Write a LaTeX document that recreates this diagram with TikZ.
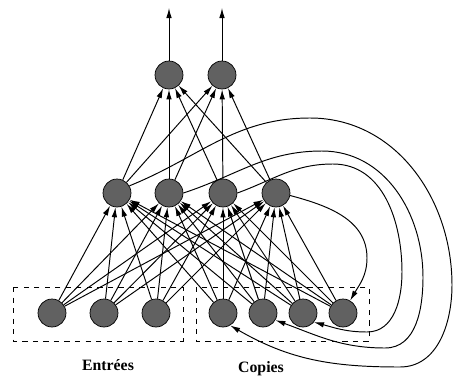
\documentclass[tikz,border=0pt]{standalone}
\usepackage{fontspec}
\setmainfont{Liberation Serif}
\usetikzlibrary{arrows.meta}

\begin{document}
\begin{tikzpicture}[x=0.02cm, y=0.02cm,
    neuron/.style={circle, draw=black, fill=black!62, minimum size=0.56cm, inner sep=0pt},
    wire/.style={line width=0.55pt, -{Latex[length=2mm, width=1.1mm]}},
    group/.style={dashed, line width=0.5pt},
    caption/.style={font=\fontsize{9}{10}\selectfont\bfseries}]
                            % Frame:
                            \useasboundingbox (0,0) rectangle (454,-376);
                            % Neurons:
                            \node[neuron] (out1) at (169,-75){};
                            \node[neuron] (out2) at (222,-75){};
                            \node[neuron] (hid1) at (117,-193){};
                            \node[neuron] (hid2) at (169,-193){};
                            \node[neuron] (hid3) at (223,-193){};
                            \node[neuron] (hid4) at (276,-193){};
                            \node[neuron] (in1) at (52,-313){};
                            \node[neuron] (in2) at (104,-313){};
                            \node[neuron] (in3) at (156,-313){};
                            \node[neuron] (in4) at (223,-313){};
                            \node[neuron] (in5) at (263,-313){};
                            \node[neuron] (in6) at (303,-313){};
                            \node[neuron] (in7) at (343,-313){};
                            \coordinate (top1) at (169,-8);
                            \coordinate (top2) at (222,-8);
                            % Groups and labels:
                            \draw[group] (13,-287) rectangle (183,-341);
                            \draw[group] (196,-287) rectangle (369,-341);
                            \node[caption] (entrees) at (108,-365){Entrées};
                            \node[caption] (copies) at (261,-369){Copies};
                            % Feed-forward wires:
                            \foreach \i in {1,...,7}
                              \foreach \j in {1,...,4}
                                \draw[wire] (in\i) -- (hid\j);
                            \foreach \j in {1,...,4}
                              \foreach \k in {1,2}
                                \draw[wire] (hid\j) -- (out\k);
                            \draw[wire] (out1) -- (top1);
                            \draw[wire] (out2) -- (top2);
                            % Recurrent wires to the copies:
                            \draw[wire] (hid4.-10) to[out=-15,in=90] (367,-258) to[out=-90,in=60] (in7.60);
                            \draw[wire] (hid3.east) to[out=20,in=180] (333,-164) to[out=0,in=90] (402,-272) to[out=-90,in=0] (367,-332) to[out=180,in=-15] (in6.-40);
                            \draw[wire] (hid2.east) to[out=18,in=180] (322,-151) to[out=0,in=90] (423,-277) to[out=-90,in=0] (385,-348) to[out=180,in=-20] (in5.-30);
                            \draw[wire] (hid1.30) to[out=22,in=180] (310,-118) to[out=0,in=90] (452,-285) to[out=-90,in=0] (400,-367) to[out=180,in=-30] (in4.-60);
                        \end{tikzpicture}
\end{document}
